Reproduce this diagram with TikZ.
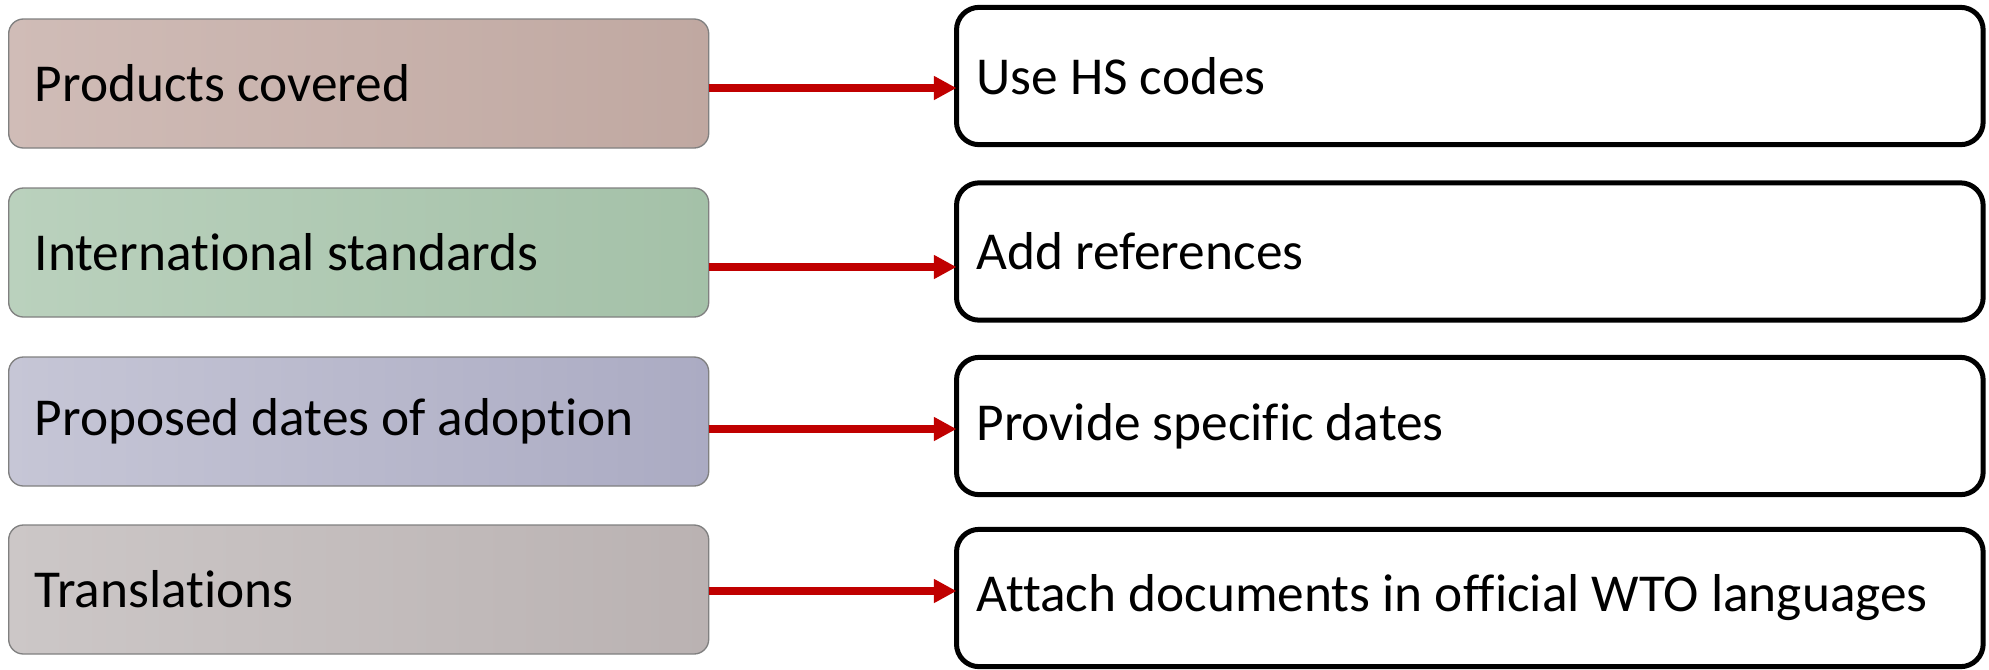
\documentclass[tikz,border=0pt]{standalone}
\usepackage{fontspec}
\setmainfont[Ligatures=NoCommon]{Carlito}
\usetikzlibrary{arrows.meta}
\definecolor{arrred}{HTML}{C00000}
\definecolor{aL}{HTML}{D0BCB7}\definecolor{aR}{HTML}{C0A8A1}
\definecolor{bL}{HTML}{BAD1BD}\definecolor{bR}{HTML}{A4C1A8}
\definecolor{cL}{HTML}{C6C6D6}\definecolor{cR}{HTML}{ABABC3}
\definecolor{dL}{HTML}{CCC7C7}\definecolor{dR}{HTML}{BAB2B2}
\definecolor{lborder}{HTML}{808080}
\newcommand{\boxfont}{\fontsize{40}{48}\selectfont}
\newcommand{\bt}[1]{\spaceskip=0pt\relax\xspaceskip=0pt\relax #1}
\begin{document}
\begin{tikzpicture}[x=0.75pt,y=-0.75pt,
  lbox/.style={draw=lborder, line width=1pt, rounded corners=11pt,
    minimum width=525pt, minimum height=96.75pt, text width=486pt,
    inner xsep=19.5pt, align=left, anchor=west, outer sep=0pt,
    font=\boxfont},
  rbox/.style={draw=black, line width=3.75pt, rounded corners=17pt,
    minimum width=770pt, minimum height=103pt, text width=740pt,
    inner xsep=15pt, align=left, anchor=west, outer sep=0pt,
    font=\boxfont},
  arr/.style={draw=arrred, line width=6pt,
    -{Triangle[length=17pt,width=17pt]}}]
\useasboundingbox (0,0) rectangle (1989,669);
\node[lbox, left color=aL, right color=aR] (l1) at (8.7,83.5) {\bt{Products covered}};
\node[lbox, left color=bL, right color=bR] (l2) at (8.7,252.5) {\bt{International standards}};
\node[lbox, left color=cL, right color=cR] (l3) at (8.7,421.5) {\bt{Proposed dates of adoption}};
\node[lbox, left color=dL, right color=dR] (l4) at (8.7,589.5) {\bt{Translations}};
\node[rbox] (r1) at (956.5,76) {\bt{Use HS codes}};
\node[rbox] (r2) at (956.5,251.5) {\bt{Add references}};
\node[rbox] (r3) at (956.5,426) {\bt{Provide specific dates}};
\node[rbox] (r4) at (956.5,598) {\bt{Attach documents in official WTO languages}};
\draw[arr] (l1.east |- 0,88) -- (r1.west |- 0,88);
\draw[arr] (l2.east |- 0,267) -- (r2.west |- 0,267);
\draw[arr] (l3.east |- 0,429) -- (r3.west |- 0,429);
\draw[arr] (l4.east |- 0,591) -- (r4.west |- 0,591);
\end{tikzpicture}
\end{document}
